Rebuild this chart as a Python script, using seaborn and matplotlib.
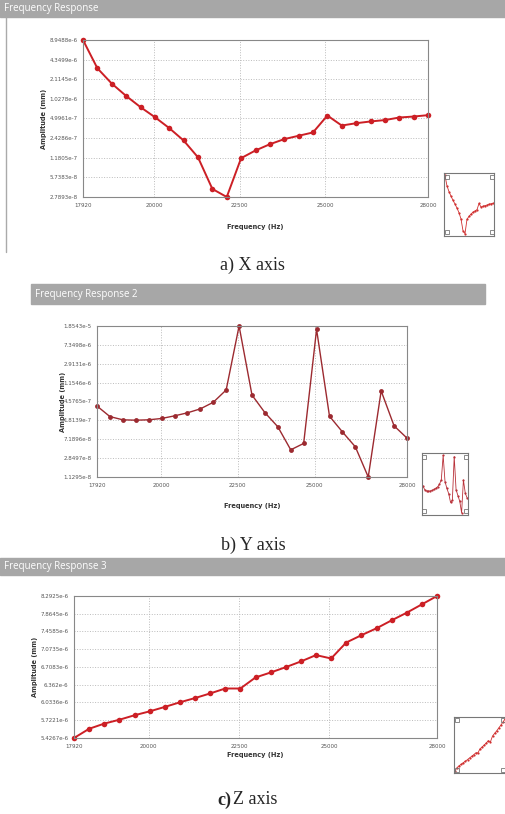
import numpy as np
import seaborn as sns
import matplotlib.pyplot as plt
from matplotlib.patches import Rectangle
from matplotlib.lines import Line2D

# Dados (frequência em Hz, amplitude em mm)
freq = [17920, 18340, 18760, 19180, 19600, 20020, 20440, 20860, 21280, 21700,
        22120, 22540, 22960, 23380, 23800, 24220, 24640, 25060, 25480, 25900,
        26320, 26740, 27160, 27580, 28000]

amp_x = [8.9488e-6, 3.167e-6, 1.804e-6, 1.145e-6, 7.59e-7, 5.25e-7, 3.51e-7, 2.226e-7,
         1.198e-7, 3.75e-8, 2.7893e-8, 1.164e-7, 1.543e-7, 1.941e-7, 2.342e-7, 2.648e-7,
         2.993e-7, 5.57e-7, 3.857e-7, 4.20e-7, 4.48e-7, 4.715e-7, 5.18e-7, 5.37e-7, 5.65e-7]

amp_y = [3.665e-7, 2.184e-7, 1.864e-7, 1.831e-7, 1.864e-7, 1.990e-7, 2.264e-7, 2.627e-7,
         3.19e-7, 4.40e-7, 8.05e-7, 1.8543e-5, 6.27e-7, 2.649e-7, 1.324e-7, 4.28e-8,
         5.86e-8, 1.570e-5, 2.223e-7, 1.031e-7, 4.96e-8, 1.1295e-8, 7.69e-7, 1.386e-7, 7.60e-8]

amp_z = [5.4267e-6, 5.578e-6, 5.665e-6, 5.731e-6, 5.808e-6, 5.876e-6, 5.954e-6, 6.037e-6,
         6.114e-6, 6.199e-6, 6.291e-6, 6.291e-6, 6.502e-6, 6.599e-6, 6.705e-6, 6.820e-6,
         6.951e-6, 6.881e-6, 7.217e-6, 7.376e-6, 7.530e-6, 7.711e-6, 7.889e-6, 8.088e-6,
         8.2925e-6]

xticks = [17920, 20000, 22500, 25000, 28000]
yticks_x = ["8.9488e-6", "4.3499e-6", "2.1145e-6", "1.0278e-6", "4.9961e-7",
            "2.4286e-7", "1.1805e-7", "5.7383e-8", "2.7893e-8"]
yticks_y = ["1.8543e-5", "7.3498e-6", "2.9131e-6", "1.1546e-6", "4.5765e-7",
            "1.8139e-7", "7.1896e-8", "2.8497e-8", "1.1295e-8"]
yticks_z = ["8.2925e-6", "7.8645e-6", "7.4585e-6", "7.0735e-6", "6.7083e-6",
            "6.362e-6", "6.0336e-6", "5.7221e-6", "5.4267e-6"]

titulos = ["Frequency Response", "Frequency Response 2", "Frequency Response 3"]
legendas = ["a) X axis", "b) Y axis", "c) Z axis"]

W, H = 505, 814
sns.set_style("white")
plt.rcParams['font.family'] = ['DejaVu Sans']

fig = plt.figure(figsize=(W / 100, H / 100), dpi=100)
fig.patch.set_facecolor("white")


def caixa(l, t, r, b):
    return [l / W, 1 - b / H, (r - l) / W, (b - t) / H]


def barra_titulo(x0, y0, x1, y1, texto):
    fig.patches.append(Rectangle((x0 / W, 1 - y1 / H), (x1 - x0) / W, (y1 - y0) / H,
                                 transform=fig.transFigure, color="#a7a7a7", zorder=0))
    fig.text((x0 + 4) / W, 1 - (y0 + y1) / 2 / H, texto, color="white", fontsize=7,
             va="center", ha="left", family="Open Sans")


def grafico(pos, amp, ytl, cor, xlab_y, ylab_x, lw=1.4, ms=4):
    ax = fig.add_axes(caixa(*pos))
    sns.lineplot(x=freq, y=amp, ax=ax, color=cor, marker="o", markersize=ms,
                 markeredgewidth=0, linewidth=lw)
    ax.set_yscale("log")
    vals = [float(v) for v in ytl]
    ax.set_ylim(min(vals), max(vals))
    ax.set_xlim(freq[0], freq[-1])
    ax.set_yticks(vals)
    ax.set_yticklabels(ytl)
    ax.minorticks_off()
    ax.set_xticks(xticks)
    ax.set_xticklabels([str(t) for t in xticks])
    ax.tick_params(labelsize=4, colors="#555555", length=2, width=0.5, pad=2)
    ax.grid(True, linestyle=":", color="#bbbbbb", linewidth=0.7)
    for s in ax.spines.values():
        s.set_color("#888888")
        s.set_linewidth(0.8)
    for ln in ax.lines:
        ln.set_clip_on(False)
    ax.set_xlabel("Frequency (Hz)", fontsize=4.8, fontweight="bold", color="#333333")
    ax.set_ylabel("Amplitude (mm)", fontsize=4.8, fontweight="bold", color="#333333")
    ax.xaxis.set_label_coords(0.5, xlab_y)
    ax.yaxis.set_label_coords(ylab_x, 0.5)
    return ax


def miniatura(pos, amp, cor):
    ax = fig.add_axes(caixa(*pos))
    sns.lineplot(x=freq, y=amp, ax=ax, color=cor, marker="o", markersize=1.6,
                 markeredgewidth=0, linewidth=0.6)
    ax.set_yscale("log")
    ax.set_xticks([])
    ax.set_yticks([])
    ax.minorticks_off()
    ax.set_xlabel("")
    ax.set_ylabel("")
    ax.margins(x=0.02, y=0.04)
    for s in ax.spines.values():
        s.set_color("#777777")
        s.set_linewidth(0.8)
    for cx, cy in [(0.05, 0.06), (0.95, 0.06), (0.05, 0.94), (0.95, 0.94)]:
        ax.add_line(Line2D([cx], [cy], marker="s", markersize=3, markerfacecolor="none",
                           markeredgecolor="#777777", markeredgewidth=0.6,
                           transform=ax.transAxes))
    return ax


# painel a
barra_titulo(0, 0, 505, 17, titulos[0])
fig.add_artist(Line2D([6 / W, 6 / W], [1 - 17 / H, 1 - 252 / H], color="#aaaaaa",
                      linewidth=1, transform=fig.transFigure))
grafico((83, 40, 428, 197), amp_x, yticks_x, "#cc1f25", -0.17, -0.105)
miniatura((444, 173, 494, 236), amp_x, "#d03030")
fig.text(252 / W, 1 - 265 / H, legendas[0], fontsize=13, family="Liberation Serif",
         ha="center", va="center")

# painel b
barra_titulo(31, 284, 485, 304, titulos[1])
grafico((97, 326, 407, 477), amp_y, yticks_y, "#9c2a30", -0.17, -0.10, lw=1.0, ms=3.5)
miniatura((422, 453, 468, 515), amp_y, "#b83038")
fig.text(253 / W, 1 - 545 / H, legendas[1], fontsize=13, family="Liberation Serif",
         ha="center", va="center")

# painel c
barra_titulo(0, 558, 505, 575, titulos[2])
grafico((74, 596, 437, 738), amp_z, yticks_z, "#cc1f25", -0.10, -0.10)
miniatura((454, 717, 506, 773), amp_z, "#d03030")
fig.text(231 / W, 1 - 800 / H, "c)", fontsize=13, family="Liberation Serif",
         fontweight="bold", ha="right", va="center")
fig.text(233 / W, 1 - 800 / H, "Z axis", fontsize=13, family="Liberation Serif",
         ha="left", va="center")

plt.savefig("out.png", dpi=100)
plt.close()
